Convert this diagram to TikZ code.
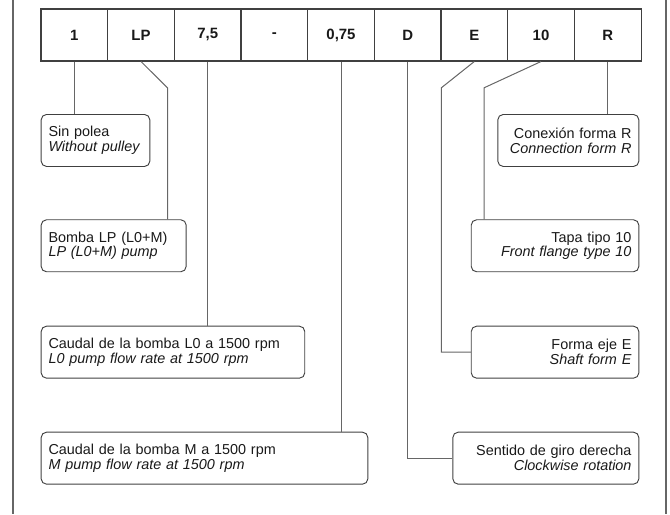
\documentclass[tikz,border=0pt]{standalone}
\usepackage{fontspec}
\setmainfont{Liberation Sans}
\usepackage{tikz}
\usetikzlibrary{positioning}
\hyphenpenalty=10000

\begin{document}
\begin{tikzpicture}[
  x=0.75pt, y=-0.75pt,
  cell/.style={draw=black!75, text=black!90, line width=0.8pt, minimum width=50pt,
               minimum height=39pt, inner sep=0pt,
               font=\fontsize{11.2}{12}\selectfont\bfseries},
  info/.style={draw=black!75, text=black!90, line width=0.7pt, rounded corners=4pt,
               minimum height=39pt, inner xsep=5.5pt, inner ysep=2pt,
               font=\fontsize{10.8}{11.2}\selectfont},
  lft/.style={info, anchor=north west, align=left},
  rgt/.style={info, anchor=north east, align=right},
  lead/.style={black!60, line width=0.75pt},
  frame/.style={black!60, line width=1.1pt}
]
\useasboundingbox (0,0) rectangle (670,514);
% ---------------- side frame ----------------
\draw[frame] (13,0) -- (13,514);
\draw[frame] (666,0) -- (666,514);
% ---------------- code cells ----------------
\node[cell] (c1)  at (74.3,35)  {1};
\node[cell] (cLP) at (141,35)   {LP};
\node[cell] (cL0) at (207.7,35) {7,5};
\node[cell] (cdh) at (274.3,35) {-};
\node[cell] (cM)  at (341,35)   {0,75};
\node[cell] (cD)  at (407.7,35) {D};
\node[cell] (cE)  at (474.3,35) {E};
\node[cell] (c10) at (541,35)   {10};
\node[cell] (cR)  at (607.7,35) {R};
% ---------------- left boxes ----------------
\node[lft, text width=70.5pt] (nopul) at (40.7,114)
  {Sin polea\\\textit{Without pulley}};
\node[lft, text width=97.75pt] (pump) at (40.7,219.3)
  {Bomba LP (L0+M)\\\textit{LP (L0+M) pump}};
\node[lft, text width=186.7pt] (rateL) at (40.7,325.7)
  {Caudal de la bomba L0 a 1500 rpm\\\textit{L0 pump flow rate at 1500 rpm}};
\node[lft, text width=234pt] (rateM) at (40.7,431.7)
  {Caudal de la bomba M a 1500 rpm\\\textit{M pump flow rate at 1500 rpm}};
% ---------------- right boxes ----------------
\node[rgt, text width=94.75pt] (form) at (639.3,114)
  {Conexión forma R\\\textit{Connection form R}};
\node[rgt, text width=114.7pt] (flng) at (639.3,219.3)
  {Tapa tipo 10\\\textit{Front flange type 10}};
\node[rgt, text width=114.7pt] (shft) at (639.3,325.7)
  {Forma eje E\\\textit{Shaft form E}};
\node[rgt, text width=128.5pt] (cw) at (639.3,431.7)
  {Sentido de giro derecha\\\textit{Clockwise rotation}};
% ---------------- leaders ----------------
\draw[lead] (c1.south) -- (c1.south |- nopul.north);
\draw[lead] (cLP.south) -- ++(26.5,26.3) coordinate (kLP) -- (kLP |- pump.north);
\draw[lead] (cL0.south) -- (cL0.south |- rateL.north);
\draw[lead] (cM.south) -- (cM.south |- rateM.north);
\draw[lead] (cD.south) |- (cw.west);
\draw[lead] (cE.south) -- ++(-33,26.3) coordinate (kE) |- (shft.west);
\draw[lead] (c10.south) -- ++(-57,26.3) coordinate (k10) -- (k10 |- flng.north);
\draw[lead] (cR.south) -- (cR.south |- form.north);
\end{tikzpicture}
\end{document}
